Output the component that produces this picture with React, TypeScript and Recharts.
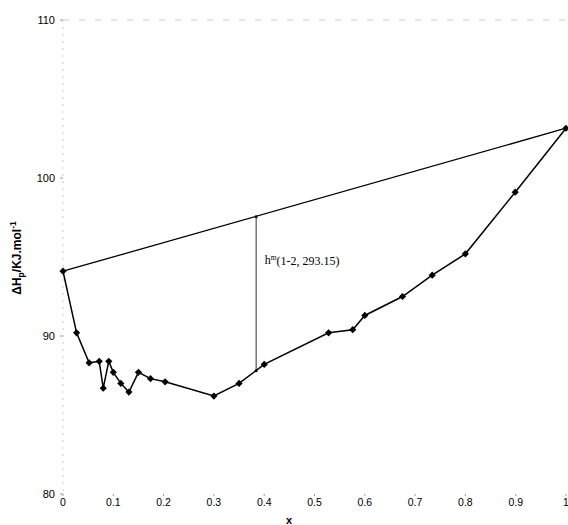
import React from "react";
import {
  ScatterChart,
  Scatter,
  XAxis,
  YAxis,
  ReferenceDot,
  ReferenceLine,
} from "recharts";

// mole fraction x and measured enthalpy values
const xValues = [0, 0.027, 0.052, 0.072, 0.08, 0.091, 0.1, 0.115, 0.131, 0.15, 0.174, 0.203, 0.3, 0.35, 0.4, 0.528, 0.576, 0.6, 0.675, 0.734, 0.8, 0.899, 1.0];
const hValues = [94.1, 90.2, 88.3, 88.4, 86.7, 88.4, 87.7, 87.0, 86.45, 87.7, 87.3, 87.1, 86.2, 87.0, 88.2, 90.2, 90.4, 91.3, 92.5, 93.85, 95.2, 99.1, 103.15];

// straight line joining the pure components
const tieX = [0, 1];
const tieY = [94.1, 103.15];

// vertical marker for h^m at x = 0.384
const markX = [0.384, 0.384];
const markY = [87.8, 97.55];

const xTicks = [0, 0.1, 0.2, 0.3, 0.4, 0.5, 0.6, 0.7, 0.8, 0.9, 1];
const yTicks = [80, 90, 100, 110];

const curve = xValues.map((x, i) => ({ x, y: hValues[i] }));
const tie = tieX.map((x, i) => ({ x, y: tieY[i] }));
const mark = markX.map((x, i) => ({ x, y: markY[i] }));

const Diamond = (props: any) => {
  const { cx, cy } = props;
  const r = 3.6;
  return (
    <path
      d={`M${cx},${cy - r}L${cx + r},${cy}L${cx},${cy + r}L${cx - r},${cy}Z`}
      fill="#000"
    />
  );
};

const NoDot = () => null;

const YLabel = () => (
  <text
    x={21}
    y={258}
    transform="rotate(-90 21 258)"
    textAnchor="middle"
    fontFamily="'Liberation Sans', Arial, sans-serif"
    fontWeight="bold"
    fontSize={12}
    fill="#000"
  >
    ΔH
    <tspan fontSize={8.5} dy={3}>p</tspan>
    <tspan dy={-3}>/KJ.mol</tspan>
    <tspan fontSize={8.5} dy={-5}>-1</tspan>
  </text>
);

const XLabel = () => (
  <text
    x={289}
    y={524}
    textAnchor="middle"
    fontFamily="'Liberation Sans', Arial, sans-serif"
    fontWeight="bold"
    fontSize={11}
    fill="#000"
  >
    x
  </text>
);

const Annotation = (props: any) => {
  const { cx, cy } = props;
  return (
    <text
      x={cx}
      y={cy}
      fontFamily="'Liberation Serif', 'Times New Roman', serif"
      fontSize={12}
      fill="#000"
      dominantBaseline="middle"
    >
      h<tspan fontSize={7.5} dy={-4}>m</tspan>
      <tspan dy={4}>(1-2, 293.15)</tspan>
    </text>
  );
};

const tickStyle = {
  fontFamily: "'Liberation Sans', Arial, sans-serif",
  fontSize: 11,
  fill: "#000",
};

export default function App() {
  return (
    <div style={{ position: "absolute", left: 0, top: 0, width: 568, height: 525, background: "#fff" }}>
      <ScatterChart
        width={568}
        height={525}
        margin={{ top: 20, right: 2, bottom: 0, left: 23 }}
      >
        <XAxis
          type="number"
          dataKey="x"
          domain={[0, 1]}
          ticks={xTicks}
          interval={0}
          axisLine={false}
          stroke="#999"
          tickLine={{ stroke: "#999" }}
          tickSize={2}
          tickMargin={3}
          tick={{ ...tickStyle, fontSize: 10.5 }}
          height={31}
          label={<XLabel />}
        />
        <YAxis
          type="number"
          dataKey="y"
          domain={[80, 110]}
          ticks={yTicks}
          interval={0}
          stroke="#999"
          axisLine={{ stroke: "#ccc", strokeDasharray: "2 5" }}
          tickLine={{ stroke: "#999" }}
          tickSize={3}
          tickMargin={5}
          tick={tickStyle}
          width={40}
          label={<YLabel />}
        />
        <ReferenceLine y={110} stroke="#ccc" strokeDasharray="6 10" />
        <Scatter
          data={tie}
          line={{ stroke: "#000", strokeWidth: 1.3 }}
          shape={NoDot}
          isAnimationActive={false}
        />
        <Scatter
          data={mark}
          line={{ stroke: "#333", strokeWidth: 1 }}
          shape={(p: any) => <circle cx={p.cx} cy={p.cy} r={1.5} fill="#000" />}
          isAnimationActive={false}
        />
        <Scatter
          data={curve}
          line={{ stroke: "#000", strokeWidth: 1.5 }}
          shape={Diamond}
          isAnimationActive={false}
        />
        <ReferenceDot x={0.401} y={94.7} r={0} shape={Annotation} />
      </ScatterChart>
    </div>
  );
}
